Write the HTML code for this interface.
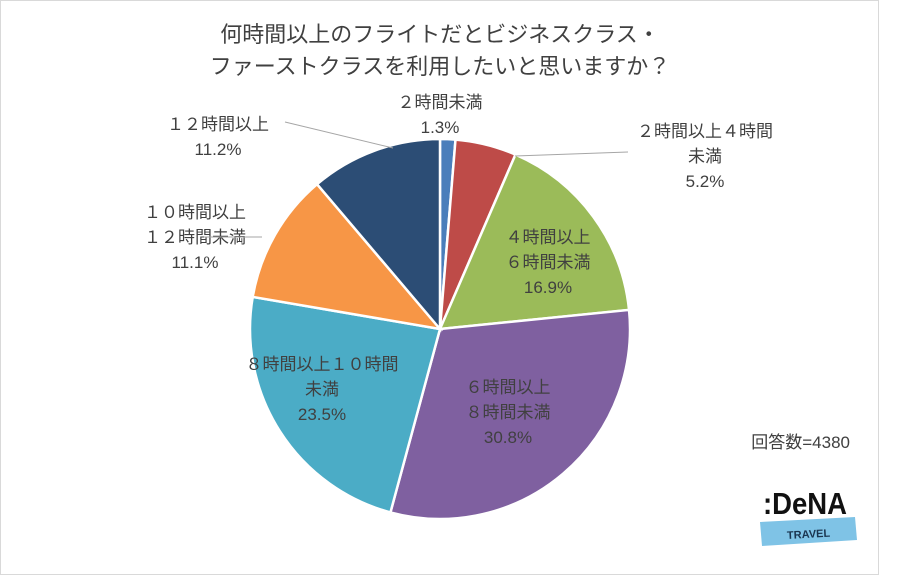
<!DOCTYPE html>
<html><head><meta charset="utf-8"><style>
body{margin:0;background:#fff;}
svg text{font-family:"Liberation Sans","Noto Sans CJK JP",sans-serif;fill:#404040;}
</style></head><body>
<svg id="chart" width="914" height="577" viewBox="0 0 914 577">
<rect x="0.5" y="0.5" width="878" height="574" fill="#fff" stroke="#d9d9d9"/>
<text x="440" y="42" font-size="22" text-anchor="middle">何時間以上のフライトだとビジネスクラス・</text>
<text x="440" y="74" font-size="22" text-anchor="middle">ファーストクラスを利用したいと思いますか？</text>
<g id="slices"></g>
<g id="labels"></g>
<text x="850" y="448" font-size="17" text-anchor="end">回答数=4380</text>
<g>
<text x="763" y="514" font-size="31" font-weight="bold" textLength="84" lengthAdjust="spacingAndGlyphs" style="fill:#111">:DeNA</text>
<polygon points="760,522 855,517 857,540 762,546" fill="#7fc3e6"/>
<text x="787" y="538" font-size="11" font-weight="bold" style="fill:#1a3550" transform="rotate(-3 805 535)">TRAVEL</text>
</g>
</svg>
<script>
const categories=["2時間未満","2時間以上4時間未満","4時間以上6時間未満","6時間以上8時間未満","8時間以上10時間未満","10時間以上12時間未満","12時間以上"];
const values=[1.3,5.2,16.9,30.8,23.5,11.1,11.2];
const colors=["#4a7ebb","#be4b48","#9bbb59","#7f60a0","#4bacc6","#f79646","#2c4d75"];
const labelLines=[["２時間未満","1.3%"],["２時間以上４時間","未満","5.2%"],["４時間以上","６時間未満","16.9%"],["６時間以上","８時間未満","30.8%"],["８時間以上１０時間","未満","23.5%"],["１０時間以上","１２時間未満","11.1%"],["１２時間以上","11.2%"]];
const cx=440,cy=329,r=190;
const NS="http://www.w3.org/2000/svg";
const total=values.reduce((a,b)=>a+b,0);
const sl=document.getElementById('slices'),lb=document.getElementById('labels');
function pt(a,rr){return [cx+rr*Math.sin(a),cy-rr*Math.cos(a)];}
let acc=0;
values.forEach((v,i)=>{
  const a0=acc/total*2*Math.PI; acc+=v; const a1=acc/total*2*Math.PI;
  const p0=pt(a0,r),p1=pt(a1,r);
  const p=document.createElementNS(NS,'path');
  p.setAttribute('d',`M${cx},${cy}L${p0[0]},${p0[1]}A${r},${r} 0 ${a1-a0>Math.PI?1:0} 1 ${p1[0]},${p1[1]}Z`);
  p.setAttribute('fill',colors[i]);p.setAttribute('stroke','#fff');p.setAttribute('stroke-width','2.5');
  
  
  sl.appendChild(p);
});
const lpos=[[440,108],[705,137],[548,243],[508,393],[322,370],[195,218],[218,130]];
const lhead=[null,[515,156,628,152],null,null,null,[262,237,204,237],[393,148,285,122]];
labelLines.forEach((lines,i)=>{
  const g=document.createElementNS(NS,'g');
  
  
  lines.forEach((t,j)=>{
    const tx=document.createElementNS(NS,'text');
    tx.setAttribute('x',lpos[i][0]);tx.setAttribute('y',lpos[i][1]+j*25);
    tx.setAttribute('font-size','17');tx.setAttribute('text-anchor','middle');
    tx.textContent=t;g.appendChild(tx);
  });
  if(lhead[i]){const l=document.createElementNS(NS,'line');
    l.setAttribute('x1',lhead[i][0]);l.setAttribute('y1',lhead[i][1]);l.setAttribute('x2',lhead[i][2]);l.setAttribute('y2',lhead[i][3]);
    l.setAttribute('stroke','#a6a6a6');g.appendChild(l);}
  lb.appendChild(g);
});
</script>
</body></html>
